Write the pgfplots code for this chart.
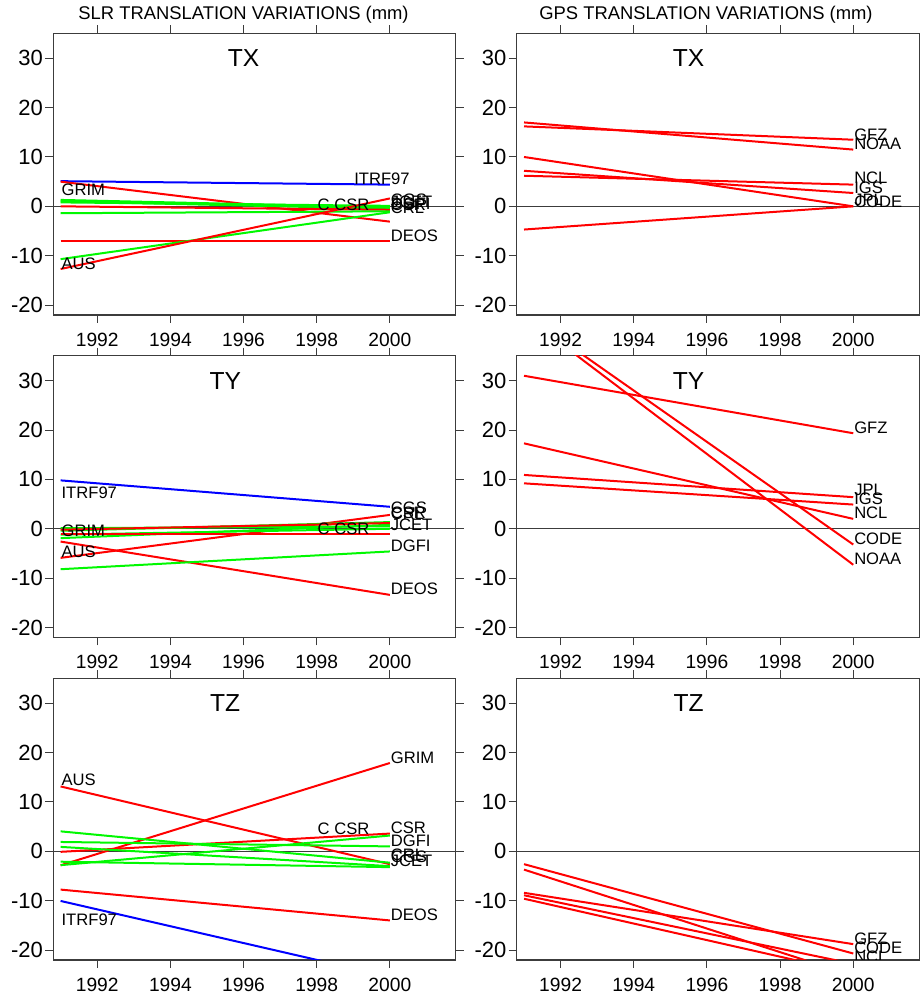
\documentclass[border=0pt]{standalone}
\usepackage{fontspec}
\setmainfont{Liberation Sans}
\usepackage{pgfplots}
\pgfplotsset{compat=1.18}
\definecolor{rr}{RGB}{255,0,0}
\definecolor{gg}{RGB}{0,248,0}
\definecolor{bb}{RGB}{0,0,255}
\definecolor{ax}{RGB}{60,60,60}
\pgfplotsset{
  panel/.style={
    scale only axis, width=201.2pt, height=140.8pt,
    xmin=1990.8, xmax=2001.8, ymin=-22, ymax=35.06,
    xtick={1992,1994,1996,1998,2000}, ytick={-20,-10,0,10,20,30},
    xtick pos=both, ytick pos=both,
    xticklabel pos=bottom, yticklabel pos=left,
    tick align=outside, major tick length=4pt,
    tick style={ax, line width=0.5pt},
    axis line style={ax, line width=0.6pt},
    /pgf/number format/assume math mode=true,
    xticklabel style={font=\fontsize{9.6}{11}\selectfont, /pgf/number format/1000 sep={}, yshift=-1.5pt},
    yticklabel style={font=\fontsize{11}{12}\selectfont, inner sep=1pt},
    anchor=north west,
  },
  r/.style={rr, line width=1pt},
  g/.style={gg, line width=1pt},
  b/.style={bb, line width=1pt},
  zl/.style={ax, line width=0.5pt},
}
\tikzset{
  lab/.style={font=\fontsize{8.3}{10}\selectfont, anchor=west, inner sep=0.3pt},
  pl/.style={font=\fontsize{12.3}{14}\selectfont},
}
\begin{document}
\begin{tikzpicture}
\useasboundingbox (0,0) rectangle (460pt,-499pt);
\node[font=\fontsize{9.2}{11}\selectfont] at (121.75pt,-7.5pt) {SLR TRANSLATION VARIATIONS (mm)};
\node[font=\fontsize{9.2}{11}\selectfont] at (353pt,-7.5pt) {GPS TRANSLATION VARIATIONS (mm)};

% SLR TX
\begin{axis}[panel, at={(26.65pt,-16.65pt)}]
\addplot[zl] coordinates {(1990.8,0) (2001.8,0)};
\addplot[b] coordinates {(1991,5.1) (2000,4.4)};
\addplot[r] coordinates {(1991,5.0) (2000,-3.1)};
\addplot[g] coordinates {(1991,1.3) (2000,-0.2)};
\addplot[g] coordinates {(1991,1.0) (2000,-0.5)};
\addplot[g] coordinates {(1991,0.8) (2000,0.1)};
\addplot[r] coordinates {(1991,0.0) (2000,-0.7)};
\addplot[g] coordinates {(1991,-1.4) (2000,-1.0)};
\addplot[r] coordinates {(1991,-7.1) (2000,-7.1)};
\addplot[g] coordinates {(1991,-10.7) (2000,-1.2)};
\addplot[r] coordinates {(1991,-12.7) (2000,1.6)};
\node[pl] at (axis cs:1996,30) {TX};
\node[lab] at (axis cs:1999.0,5.6) {ITRF97};
\node[lab] at (axis cs:1991,3.3) {GRIM};
\node[lab] at (axis cs:1991,-11.6) {AUS};
\node[lab] at (axis cs:1998.0,0.3) {C CSR};
\node[lab] at (axis cs:2000,-5.9) {DEOS};
\node[lab] at (axis cs:2000,1.4) {CGS};
\node[lab] at (axis cs:2000,1.0) {JCET};
\node[lab] at (axis cs:2000,0.6) {DGFI};
\node[lab] at (axis cs:2000,0.3) {CSR};
\node[lab] at (axis cs:2000,-0.3) {CRL};
\end{axis}

% GPS TX
\begin{axis}[panel, at={(258.35pt,-16.65pt)}]
\addplot[zl] coordinates {(1990.8,0) (2001.8,0)};
\addplot[r] coordinates {(1991,17.0) (2000,11.5)};
\addplot[r] coordinates {(1991,16.2) (2000,13.5)};
\addplot[r] coordinates {(1991,10.0) (2000,0.0)};
\addplot[r] coordinates {(1991,7.2) (2000,2.7)};
\addplot[r] coordinates {(1991,6.2) (2000,4.4)};
\addplot[r] coordinates {(1991,-4.7) (2000,0.0)};
\node[pl] at (axis cs:1995.5,30) {TX};
\node[lab] at (axis cs:2000,14.5) {GFZ};
\node[lab] at (axis cs:2000,12.7) {NOAA};
\node[lab] at (axis cs:2000,5.7) {NCL};
\node[lab] at (axis cs:2000,3.7) {IGS};
\node[lab] at (axis cs:2000,1.3) {JPL};
\node[lab] at (axis cs:2000,1.0) {CODE};
\end{axis}

% SLR TY
\begin{axis}[panel, at={(26.65pt,-177.85pt)}]
\addplot[zl] coordinates {(1990.8,0) (2001.8,0)};
\addplot[b] coordinates {(1991,9.8) (2000,4.45)};
\addplot[r] coordinates {(1991,-2.6) (2000,-13.4)};
\addplot[r] coordinates {(1991,-5.9) (2000,2.8)};
\addplot[g] coordinates {(1991,-8.2) (2000,-4.6)};
\addplot[g] coordinates {(1991,-0.4) (2000,1.35)};
\addplot[g] coordinates {(1991,-1.2) (2000,0.0)};
\addplot[g] coordinates {(1991,-1.9) (2000,0.8)};
\addplot[g] coordinates {(1991,0.1) (2000,0.5)};
\addplot[r] coordinates {(1991,-0.2) (2000,1.15)};
\addplot[r] coordinates {(1991,-1.0) (2000,-1.0)};
\node[pl] at (axis cs:1995.5,30) {TY};
\node[lab] at (axis cs:1991,7.35) {ITRF97};
\node[lab] at (axis cs:1991,-0.4) {GRIM};
\node[lab] at (axis cs:1991,-4.6) {AUS};
\node[lab] at (axis cs:1998.0,0) {C CSR};
\node[lab] at (axis cs:2000,4.2) {CGS};
\node[lab] at (axis cs:2000,3.3) {CSR};
\node[lab] at (axis cs:2000,3.0) {CRL};
\node[lab] at (axis cs:2000,0.9) {JCET};
\node[lab] at (axis cs:2000,-3.4) {DGFI};
\node[lab] at (axis cs:2000,-12.1) {DEOS};
\end{axis}

% GPS TY
\begin{axis}[panel, at={(258.35pt,-177.85pt)}]
\addplot[zl] coordinates {(1990.8,0) (2001.8,0)};
\addplot[r] coordinates {(1991,31.0) (2000,19.35)};
\addplot[r] coordinates {(1991,43.2) (2000,-7.3)};
\addplot[r] coordinates {(1991,43.6) (2000,-3.2)};
\addplot[r] coordinates {(1991,17.3) (2000,2.0)};
\addplot[r] coordinates {(1991,10.9) (2000,6.4)};
\addplot[r] coordinates {(1991,9.2) (2000,4.9)};
\node[pl] at (axis cs:1995.5,30) {TY};
\node[lab] at (axis cs:2000,20.4) {GFZ};
\node[lab] at (axis cs:2000,7.9) {JPL};
\node[lab] at (axis cs:2000,6.1) {IGS};
\node[lab] at (axis cs:2000,3.2) {NCL};
\node[lab] at (axis cs:2000,-2.0) {CODE};
\node[lab] at (axis cs:2000,-6.1) {NOAA};
\end{axis}

% SLR TZ
\begin{axis}[panel, at={(26.65pt,-339.15pt)}]
\addplot[zl] coordinates {(1990.8,0) (2001.8,0)};
\addplot[b] coordinates {(1991,-10.05) (2000,-25.4)};
\addplot[r] coordinates {(1991,-7.75) (2000,-14.0)};
\addplot[r] coordinates {(1991,13.15) (2000,-2.6)};
\addplot[r] coordinates {(1991,-2.83) (2000,17.9)};
\addplot[r] coordinates {(1991,-0.1) (2000,3.6)};
\addplot[g] coordinates {(1991,4.05) (2000,-2.3)};
\addplot[g] coordinates {(1991,1.9) (2000,1.0)};
\addplot[g] coordinates {(1991,0.9) (2000,-3.0)};
\addplot[g] coordinates {(1991,-2.8) (2000,3.2)};
\addplot[g] coordinates {(1991,-2.1) (2000,-3.2)};
\node[pl] at (axis cs:1995.5,30) {TZ};
\node[lab] at (axis cs:1991,14.4) {AUS};
\node[lab] at (axis cs:1991,-13.8) {ITRF97};
\node[lab] at (axis cs:2000,18.9) {GRIM};
\node[lab] at (axis cs:1998.0,4.6) {C CSR};
\node[lab] at (axis cs:2000,4.7) {CSR};
\node[lab] at (axis cs:2000,2.2) {DGFI};
\node[lab] at (axis cs:2000,-0.7) {CRL};
\node[lab] at (axis cs:2000,-1.1) {CGS};
\node[lab] at (axis cs:2000,-2.0) {JCET};
\node[lab] at (axis cs:2000,-12.9) {DEOS};
\end{axis}

% GPS TZ
\begin{axis}[panel, at={(258.35pt,-339.15pt)}]
\addplot[zl] coordinates {(1990.8,0) (2001.8,0)};
\addplot[r] coordinates {(1991,-2.6) (2000,-20.7)};
\addplot[r] coordinates {(1991,-3.7) (2000,-25.2)};
\addplot[r] coordinates {(1991,-8.4) (2000,-18.8)};
\addplot[r] coordinates {(1991,-8.9) (2000,-22.8)};
\addplot[r] coordinates {(1991,-9.6) (2000,-24.7)};
\node[pl] at (axis cs:1995.5,30) {TZ};
\node[lab] at (axis cs:2000,-17.7) {GFZ};
\node[lab] at (axis cs:2000,-19.5) {CODE};
\node[lab] at (axis cs:2000,-21.4) {NCL};
\end{axis}
\end{tikzpicture}
\end{document}
